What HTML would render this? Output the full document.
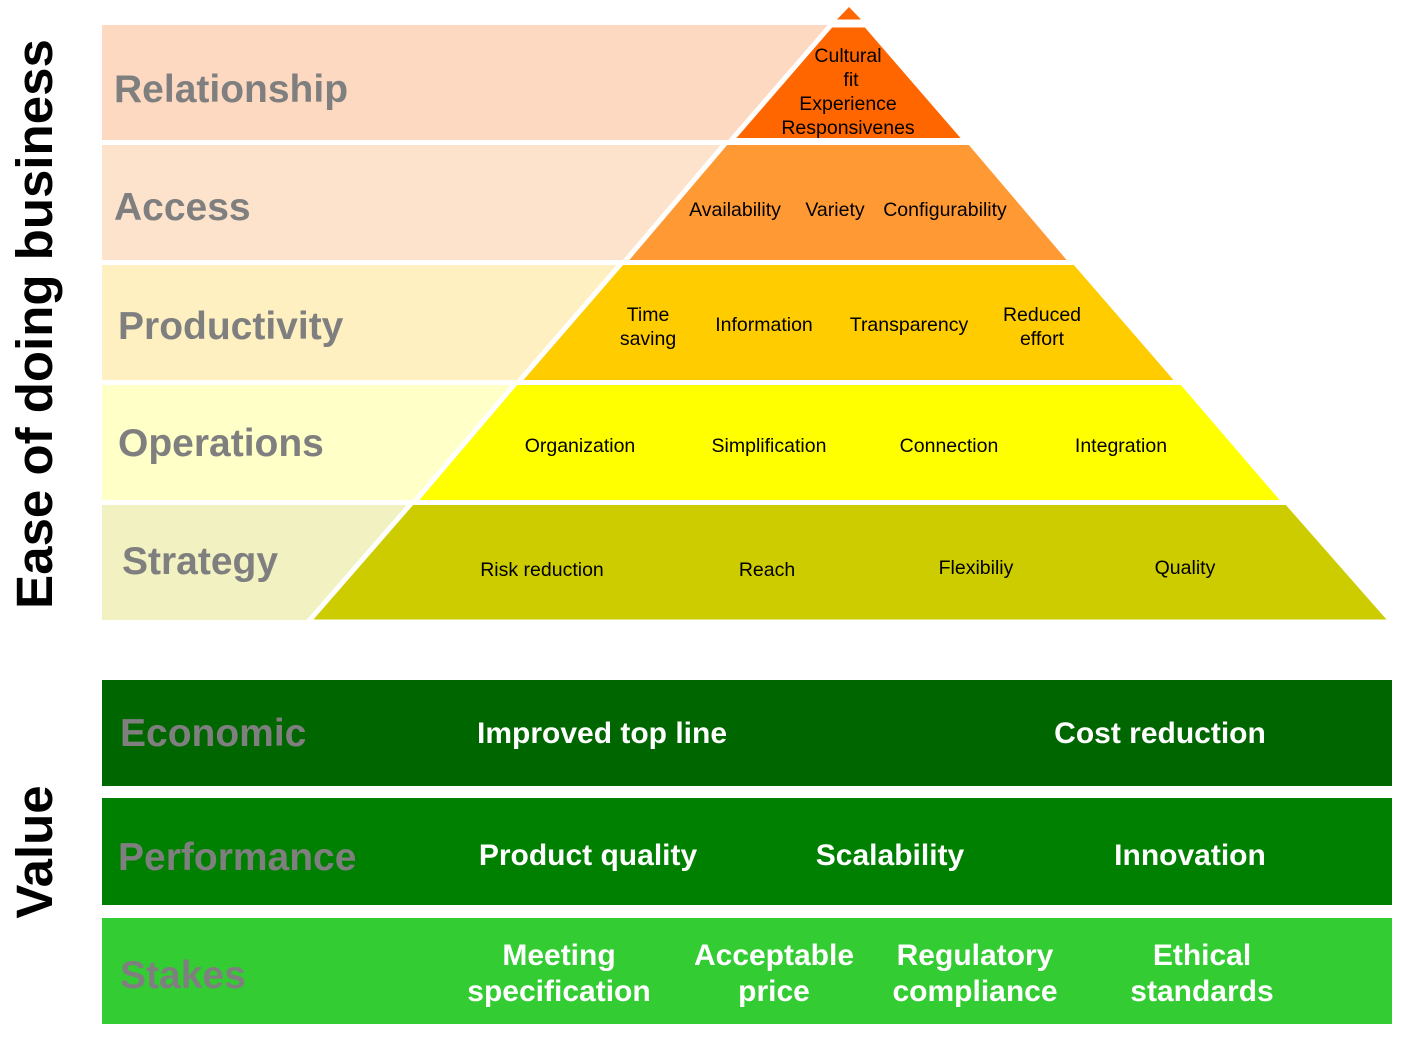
<!DOCTYPE html>
<html><head><meta charset="utf-8"><style>
html,body{margin:0;padding:0;background:#fff;}
svg{display:block;font-family:"Liberation Sans",Arial,sans-serif;}
.g{fill:#7f7f7f;font-weight:bold;font-size:39px;}
.s{fill:#000;font-size:19.5px;text-anchor:middle;}
.w{fill:#fff;font-weight:bold;font-size:30px;text-anchor:middle;}
</style></head><body>
<svg width="1419" height="1043" viewBox="0 0 1419 1043">
<rect x="102" y="25" width="760" height="115" fill="#fdd9c1"/>
<rect x="102" y="145" width="700" height="115" fill="#fee3cc"/>
<rect x="102" y="265" width="600" height="115" fill="#fef0c0"/>
<rect x="102" y="385" width="500" height="115" fill="#ffffc8"/>
<rect x="102" y="505" width="400" height="115" fill="#f1f1c1"/>
<polygon points="849,7 861,19.5 837,19.5" fill="#ff6600"/>
<g stroke="#fff" stroke-width="5" stroke-linejoin="miter">
<polygon points="831,25 866,25 966,140.5 731,140.5" fill="#ff6600"/>
<polygon points="726,142.5 970,142.5 1072,262.5 624,262.5" fill="#ff9933"/>
<polygon points="622,262.5 1075,262.5 1179,382.5 518,382.5" fill="#ffcc00"/>
<polygon points="516,382.5 1182,382.5 1285,502.5 414,502.5" fill="#ffff00"/>
<polygon points="412,502.5 1287,502.5 1392,622 308,622" fill="#cccc00"/>
</g>
<rect x="0" y="620" width="1419" height="10" fill="#fff"/>
<text class="g" x="114" y="102">Relationship</text>
<text class="g" x="114" y="220">Access</text>
<text class="g" x="118" y="339">Productivity</text>
<text class="g" x="118" y="456">Operations</text>
<text class="g" x="122" y="574">Strategy</text>
<text class="s" x="848" y="62">Cultural</text>
<text class="s" x="851" y="86">fit</text>
<text class="s" x="848" y="110">Experience</text>
<text class="s" x="848" y="134">Responsivenes</text>
<text class="s" x="735" y="216">Availability</text>
<text class="s" x="835" y="216">Variety</text>
<text class="s" x="945" y="216">Configurability</text>
<text class="s" x="648" y="321">Time</text>
<text class="s" x="648" y="345">saving</text>
<text class="s" x="764" y="331">Information</text>
<text class="s" x="909" y="331">Transparency</text>
<text class="s" x="1042" y="321">Reduced</text>
<text class="s" x="1042" y="345">effort</text>
<text class="s" x="580" y="452">Organization</text>
<text class="s" x="769" y="452">Simplification</text>
<text class="s" x="949" y="452">Connection</text>
<text class="s" x="1121" y="452">Integration</text>
<text class="s" x="542" y="576">Risk reduction</text>
<text class="s" x="767" y="576">Reach</text>
<text class="s" x="976" y="574">Flexibiliy</text>
<text class="s" x="1185" y="574">Quality</text>
<rect x="102" y="680" width="1290" height="106" fill="#006600"/>
<rect x="102" y="798" width="1290" height="107" fill="#008000"/>
<rect x="102" y="918" width="1290" height="106" fill="#33cc33"/>
<text class="g" x="120" y="746">Economic</text>
<text class="g" x="118" y="870">Performance</text>
<text class="g" x="120" y="988">Stakes</text>
<text class="w" x="602" y="743">Improved top line</text>
<text class="w" x="1160" y="743">Cost reduction</text>
<text class="w" x="588" y="865">Product quality</text>
<text class="w" x="890" y="865">Scalability</text>
<text class="w" x="1190" y="865">Innovation</text>
<text class="w" x="559" y="965">Meeting</text>
<text class="w" x="559" y="1001">specification</text>
<text class="w" x="774" y="965">Acceptable</text>
<text class="w" x="774" y="1001">price</text>
<text class="w" x="975" y="965">Regulatory</text>
<text class="w" x="975" y="1001">compliance</text>
<text class="w" x="1202" y="965">Ethical</text>
<text class="w" x="1202" y="1001">standards</text>
<text transform="translate(52,324) rotate(-90)" text-anchor="middle" font-weight="bold" font-size="51" fill="#000">Ease of doing business</text>
<text transform="translate(52,852) rotate(-90)" text-anchor="middle" font-weight="bold" font-size="51" fill="#000">Value</text>
</svg>
</body></html>
